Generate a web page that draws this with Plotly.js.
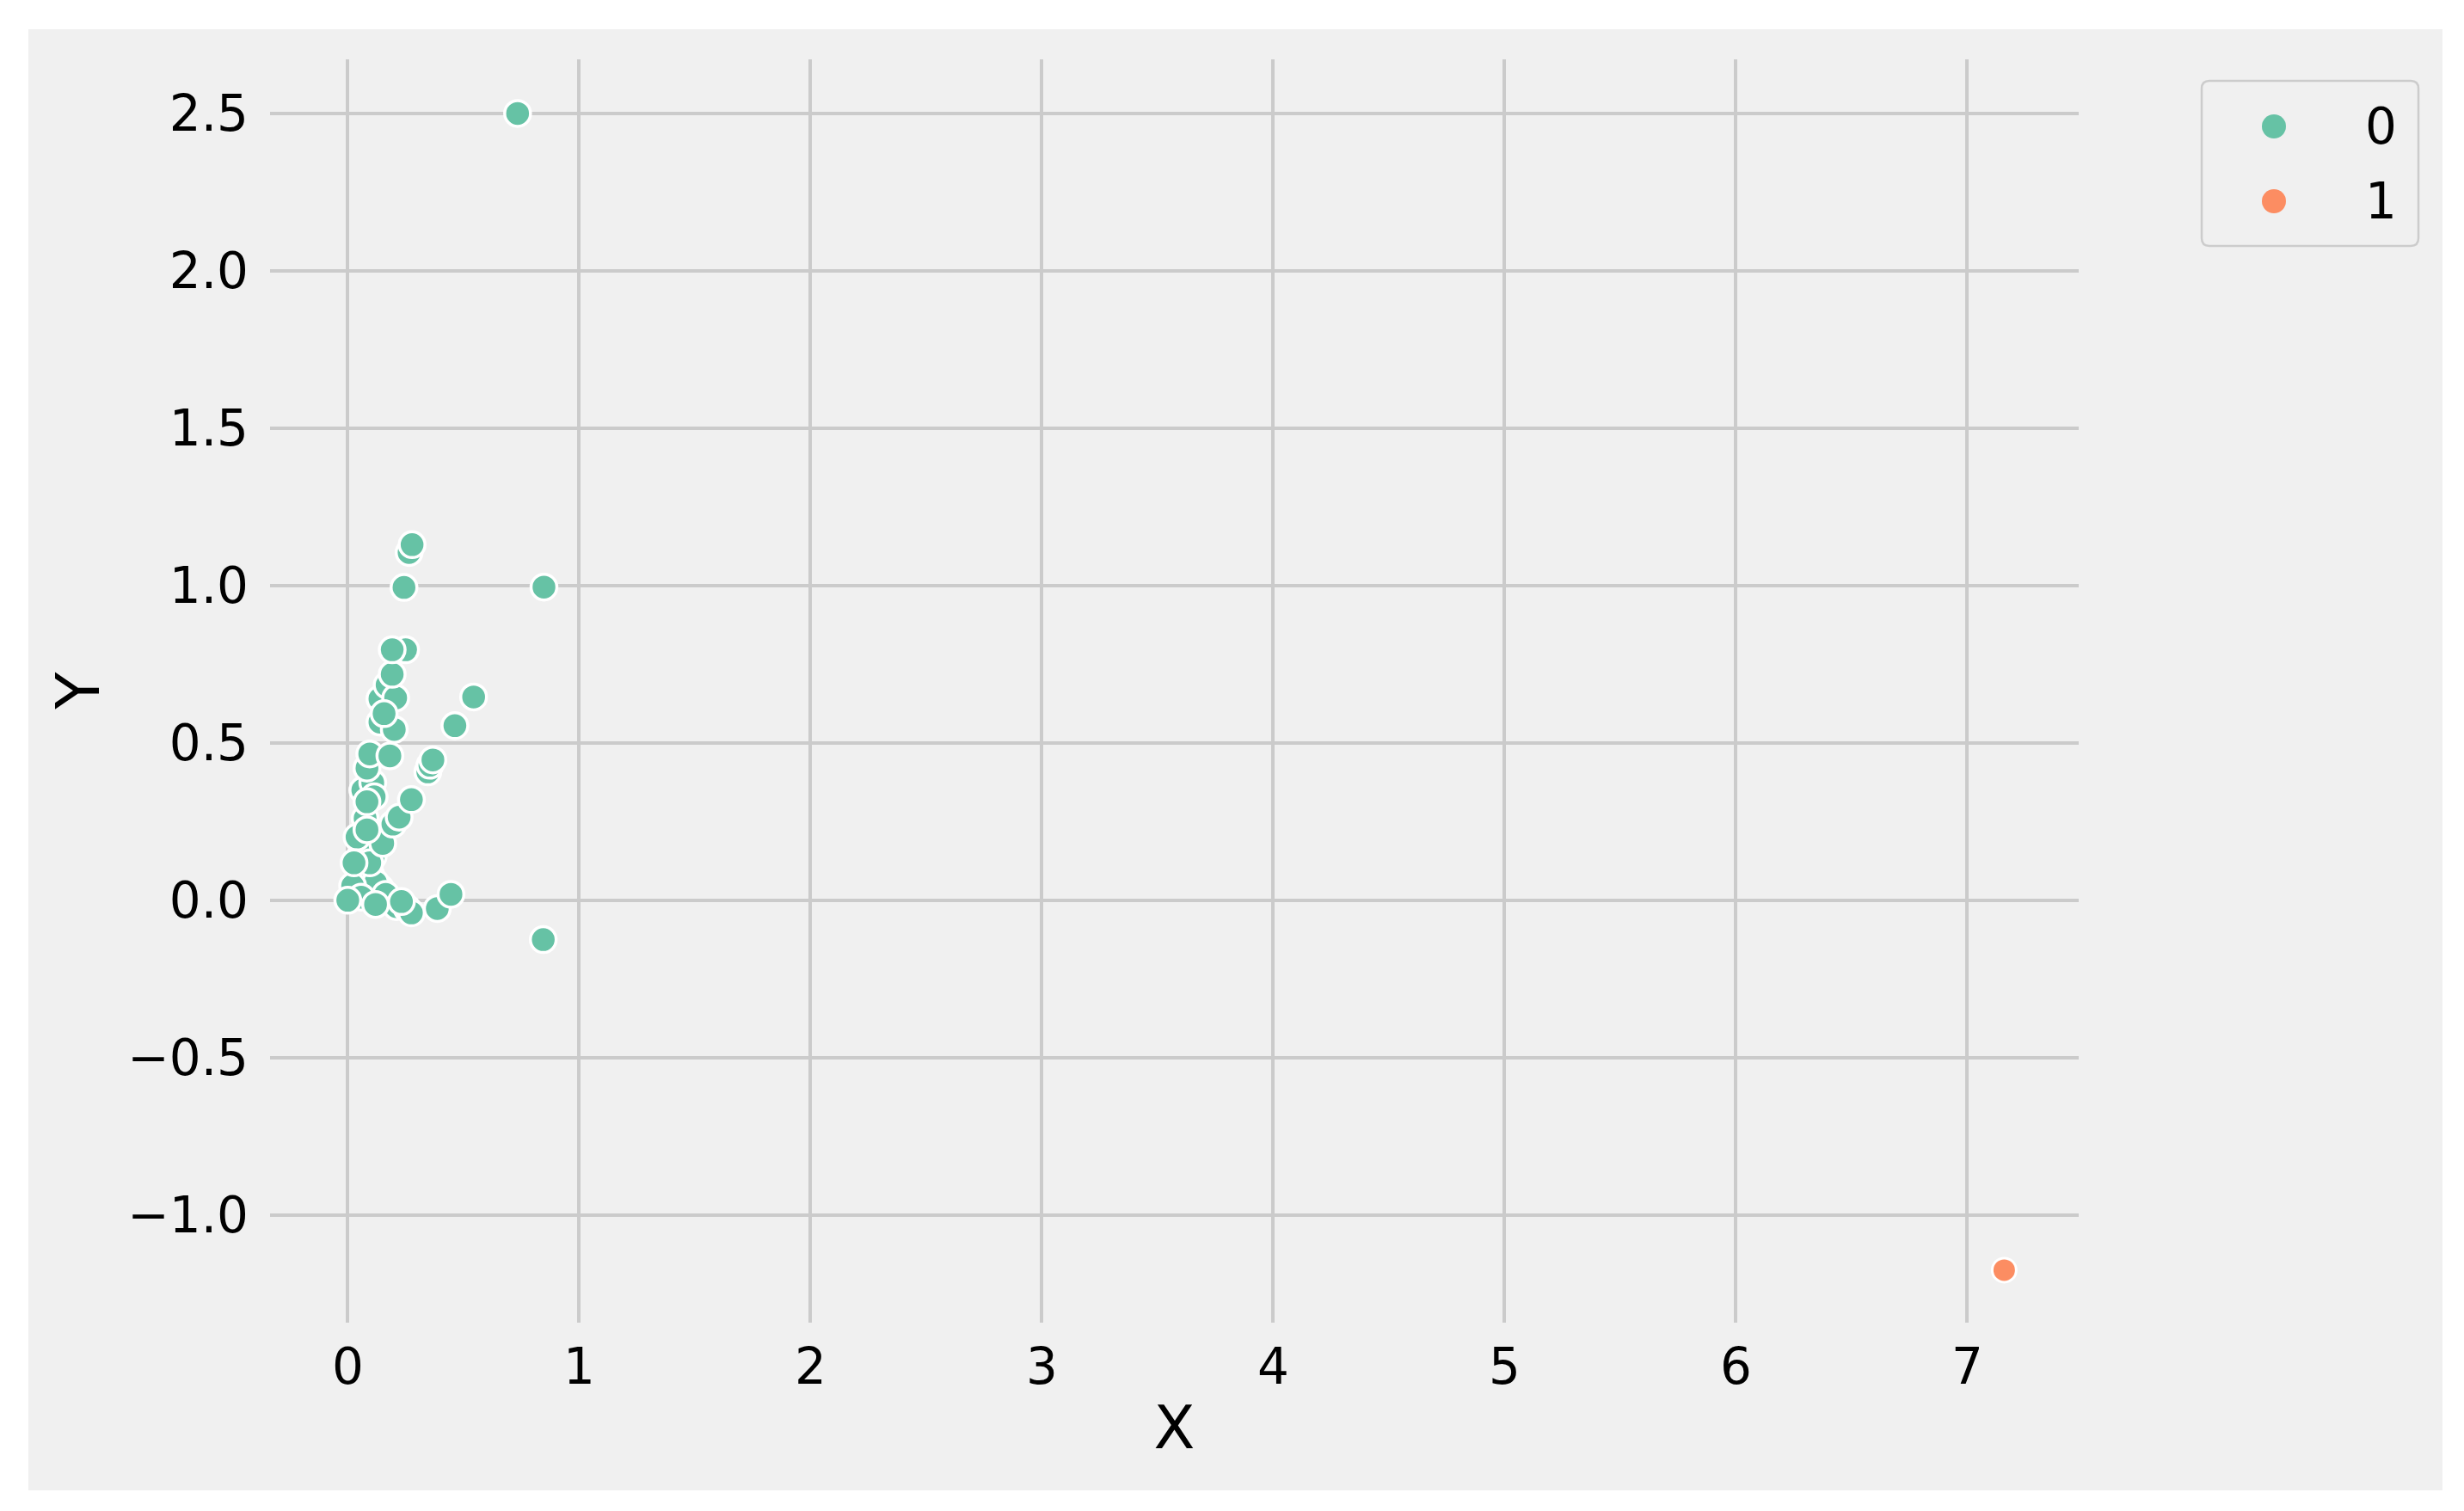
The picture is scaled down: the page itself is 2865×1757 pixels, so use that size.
<!DOCTYPE html>
<html>
<head>
<meta charset="utf-8">
<script src="https://cdn.plot.ly/plotly-3.0.1.min.js"></script>
<style>
html, body { margin: 0; padding: 0; background: #ffffff; width: 2865px; height: 1757px; overflow: hidden; }
#plot { position: absolute; left: 33px; top: 34px; }
</style>
</head>
<body>
<div id="plot"></div>
<script>
// Class labels
const classNames = ["0", "1"];
const classColors = ["#66c2a5", "#fc8d62"];

// Axis titles
const xTitle = "X";
const yTitle = "Y";

// Class 0 points (drawing order: later points on top)
const x0 = [0.100, 0.070, 0.020, 0.110, 0.065, 0.100, 0.060, 0.075, 0.050, 0.035,
            0.090, 0.140, 0.185, 0.210, 0.120, 0.021, 0.058, 0.164, 0.120, 0.095,
            0.151, 0.040, 0.195, 0.222, 0.275, 0.108, 0.114, 0.083, 0.346, 0.355,
            0.368, 0.095, 0.139, 0.170, 0.207, 0.139, 0.201, 0.192, 0.250, 0.192,
            0.243, 0.265, 0.278, 0.544, 0.463, 0.848, 0.734, 0.027, 0.083, 0.083,
            0.157, 0.182, 0.257, 0.275, 0.387, 0.446, 0.845, 0.232, 0.000];
const y0 = [0.080, 0.050, 0.010, 0.140, 0.350, 0.200, 0.150, 0.260, 0.085, 0.020,
            0.030, 0.040, 0.000, -0.020, 0.056, 0.046, 0.010, 0.019, -0.013, 0.119,
            0.181, 0.201, 0.242, 0.264, 0.320, 0.374, 0.329, 0.420, 0.408, 0.429,
            0.446, 0.465, 0.640, 0.684, 0.643, 0.566, 0.543, 0.718, 0.796, 0.796,
            0.994, 1.105, 1.130, 0.646, 0.555, 0.995, 2.500, 0.119, 0.313, 0.224,
            0.593, 0.459, -0.026, -0.040, -0.026, 0.019, -0.125, -0.004, 0.000];

// Class 1 points
const x1 = [7.16];
const y1 = [-1.175];

// Ticks
const xTicks = [0, 1, 2, 3, 4, 5, 6, 7];
const yTicks = [-1.0, -0.5, 0.0, 0.5, 1.0, 1.5, 2.0, 2.5];

const FONT = "DejaVu Sans, Liberation Sans, sans-serif";
const W = 2807, H = 1699;
const M = {l: 281, r: 423, t: 35, b: 195};
const PW = W - M.l - M.r, PH = H - M.t - M.b;

function px2x(X) { return (X - 314) / PW; }
function px2y(Y) { return (1538 - Y) / PH; }

const markerLine = {color: "#ffffff", width: 3.5};
const traces = [
  {x: x0, y: y0, type: "scatter", mode: "markers", name: classNames[0], showlegend: false,
   marker: {color: classColors[0], size: 30, line: markerLine}},
  {x: x1, y: y1, type: "scatter", mode: "markers", name: classNames[1], showlegend: false,
   marker: {color: classColors[1], size: 28, line: {color: "#ffffff", width: 3}}}
];

// Legend box drawn manually (rounded corners)
const lx0 = px2x(2560), lx1 = px2x(2812), ly0 = px2y(286), ly1 = px2y(94);
const rx = 9 / PW, ry = 9 / PH;
const boxPath =
  "M " + (lx0 + rx) + "," + ly1 +
  " L " + (lx1 - rx) + "," + ly1 +
  " Q " + lx1 + "," + ly1 + " " + lx1 + "," + (ly1 - ry) +
  " L " + lx1 + "," + (ly0 + ry) +
  " Q " + lx1 + "," + ly0 + " " + (lx1 - rx) + "," + ly0 +
  " L " + (lx0 + rx) + "," + ly0 +
  " Q " + lx0 + "," + ly0 + " " + lx0 + "," + (ly0 + ry) +
  " L " + lx0 + "," + (ly1 - ry) +
  " Q " + lx0 + "," + ly1 + " " + (lx0 + rx) + "," + ly1 + " Z";
const shapes = [
  {type: "path", xref: "paper", yref: "paper", path: boxPath,
   line: {color: "#cccccc", width: 2.5}, fillcolor: "#f0f0f0", layer: "above"}
];
const legY = [px2y(147), px2y(234)];
const annotations = [];
for (let i = 0; i < classNames.length; i++) {
  shapes.push({type: "circle", xref: "paper", yref: "paper", xsizemode: "pixel", ysizemode: "pixel",
    xanchor: px2x(2644), yanchor: legY[i], x0: -14, x1: 14, y0: -14, y1: 14,
    fillcolor: classColors[i], line: {width: 0}, layer: "above"});
  annotations.push({xref: "paper", yref: "paper", x: px2x(2789), y: legY[i], xanchor: "right", yanchor: "middle",
    text: classNames[i], showarrow: false, font: {family: FONT, size: 58, color: "#000000"}});
}
// Y axis title as rotated text
annotations.push({xref: "paper", yref: "paper", x: px2x(90), y: 0.5, xanchor: "center", yanchor: "middle",
  text: yTitle, textangle: -90, showarrow: false, font: {family: FONT, size: 70, color: "#000000"}});

const layout = {
  width: W, height: H,
  margin: M,
  paper_bgcolor: "#f0f0f0",
  plot_bgcolor: "#f0f0f0",
  font: {family: FONT, color: "#000000"},
  showlegend: false,
  xaxis: {
    range: [-0.336, 7.482],
    tickvals: xTicks,
    ticktext: xTicks.map(v => String(v)),
    showgrid: true, gridcolor: "#cbcbcb", gridwidth: 4,
    zeroline: false, showline: false, ticks: "",
    ticklabelstandoff: 12,
    tickfont: {family: FONT, size: 58, color: "#000000"},
    title: {text: xTitle, font: {family: FONT, size: 70, color: "#000000"}, standoff: 12}
  },
  yaxis: {
    range: [-1.342, 2.672],
    tickvals: yTicks,
    ticktext: yTicks.map(v => v.toFixed(1).replace("-", "\u2212")),
    showgrid: true, gridcolor: "#cbcbcb", gridwidth: 4,
    zeroline: false, showline: false, ticks: "",
    ticklabelstandoff: 24,
    tickfont: {family: FONT, size: 58, color: "#000000"}
  },
  shapes: shapes,
  annotations: annotations
};

Plotly.newPlot("plot", traces, layout, {displayModeBar: false, staticPlot: true});
</script>
</body>
</html>
